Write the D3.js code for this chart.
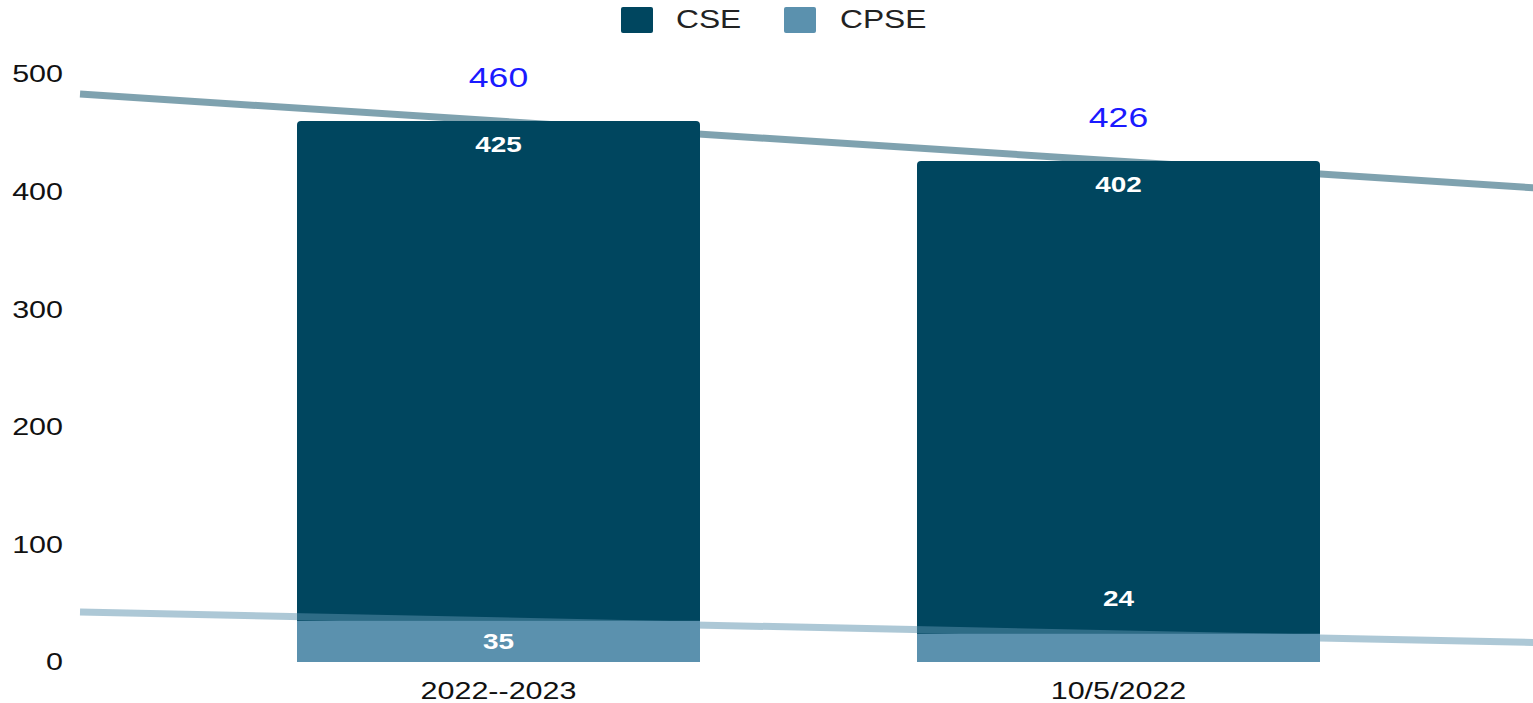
<!DOCTYPE html>
<html>
<head>
<meta charset="utf-8">
<script src="https://cdn.jsdelivr.net/npm/d3@7"></script>
<style>
  html, body { margin: 0; padding: 0; background: #fff; }
  svg { display: block; }
  text { font-family: "Liberation Sans", Arial, sans-serif; }
</style>
</head>
<body>
<svg id="chart" width="1533" height="703"></svg>
<script>
// ---- data ----
const categories = ["2022--2023", "10/5/2022"];
const seriesNames = ["CSE", "CPSE"];
const cseValues = [425, 402];
const cpseValues = [35, 24];
const yTicks = [0, 100, 200, 300, 400, 500];

// ---- style ----
const colors = { CSE: "#00465f", CPSE: "#5b91ae" };
const SX = 1.27; // horizontal text stretch seen in the reference

const totals = categories.map((c, i) => cseValues[i] + cpseValues[i]);

const svg = d3.select("#chart");

const x = d3.scaleBand().domain(categories).range([80, 1537])
  .paddingInner(0.35).paddingOuter(0.35);
const y = d3.scaleLinear().domain([0, 500]).range([662, 74]);

function txt(g, xPos, yPos, s, opts) {
  return g.append("text")
    .attr("transform", `translate(${xPos},${yPos}) scale(${SX},1)`)
    .attr("text-anchor", opts.anchor || "middle")
    .attr("dominant-baseline", opts.baseline || "auto")
    .attr("font-size", opts.size)
    .attr("font-weight", opts.weight || "normal")
    .attr("fill", opts.fill || "#111")
    .text(s);
}

// trend line helper: linear through band centers, extended across range
function trendPoints(vals) {
  const c0 = x(categories[0]) + x.bandwidth() / 2;
  const c1 = x(categories[1]) + x.bandwidth() / 2;
  const slope = (vals[1] - vals[0]) / (c1 - c0);
  const [r0, r1] = x.range();
  return [[r0, vals[0] + slope * (r0 - c0)], [r1, vals[0] + slope * (r1 - c0)]];
}
const line = d3.line().x(d => d[0]).y(d => y(d[1]));

// y axis labels
const yAxis = svg.append("g");
yTicks.forEach(t => txt(yAxis, 63, y(t), String(t), { anchor: "end", baseline: "central", size: 24 }));

// CSE trend (behind bars)
svg.append("path").attr("d", line(trendPoints(totals)))
  .attr("fill", "none").attr("stroke", colors.CSE).attr("stroke-opacity", 0.5)
  .attr("stroke-width", 7);

// CSE bars (rounded top corners)
const r = 4;
categories.forEach((c, i) => {
  const x0 = x(c), w = x.bandwidth();
  const yt = y(totals[i]), yb = y(0);
  const p = d3.path();
  p.moveTo(x0, yb);
  p.lineTo(x0, yt + r);
  p.quadraticCurveTo(x0, yt, x0 + r, yt);
  p.lineTo(x0 + w - r, yt);
  p.quadraticCurveTo(x0 + w, yt, x0 + w, yt + r);
  p.lineTo(x0 + w, yb);
  p.closePath();
  svg.append("path").attr("d", p.toString()).attr("fill", colors.CSE);
});

// CPSE trend (over CSE bars, under CPSE bars)
svg.append("path").attr("d", line(trendPoints(cpseValues)))
  .attr("fill", "none").attr("stroke", colors.CPSE).attr("stroke-opacity", 0.5)
  .attr("stroke-width", 7);

// CPSE bars
svg.append("g").selectAll("rect").data(categories).join("rect")
  .attr("x", d => x(d))
  .attr("width", x.bandwidth())
  .attr("y", (d, i) => y(cpseValues[i]))
  .attr("height", (d, i) => y(0) - y(cpseValues[i]))
  .attr("fill", colors.CPSE);

// labels
const labels = svg.append("g");
categories.forEach((c, i) => {
  const cx = x(c) + x.bandwidth() / 2;
  // totals
  txt(labels, cx, y(totals[i]) - 34, String(totals[i]), { size: 28, fill: "#1a1aff" });
  // CSE
  txt(labels, cx, y(totals[i]) + 31, String(cseValues[i]), { size: 22, weight: "bold", fill: "#fff" });
  // CPSE
  const top = y(cpseValues[i]);
  const h = y(0) - top;
  const ly = h > 35 ? top + 28 : top - 28;
  txt(labels, cx, ly, String(cpseValues[i]), { size: 22, weight: "bold", fill: "#fff" });
  // x axis label
  txt(labels, cx, 699, c, { size: 24 });
});

// legend
const legend = svg.append("g");
const legendPos = [{ sq: 621, tx: 676 }, { sq: 784, tx: 840 }];
seriesNames.forEach((s, i) => {
  legend.append("rect").attr("x", legendPos[i].sq).attr("y", 7)
    .attr("width", 32).attr("height", 26).attr("rx", 2)
    .attr("fill", colors[s]);
  txt(legend, legendPos[i].tx, 28, s, { anchor: "start", size: 25, fill: "#222" });
});
</script>
</body>
</html>
